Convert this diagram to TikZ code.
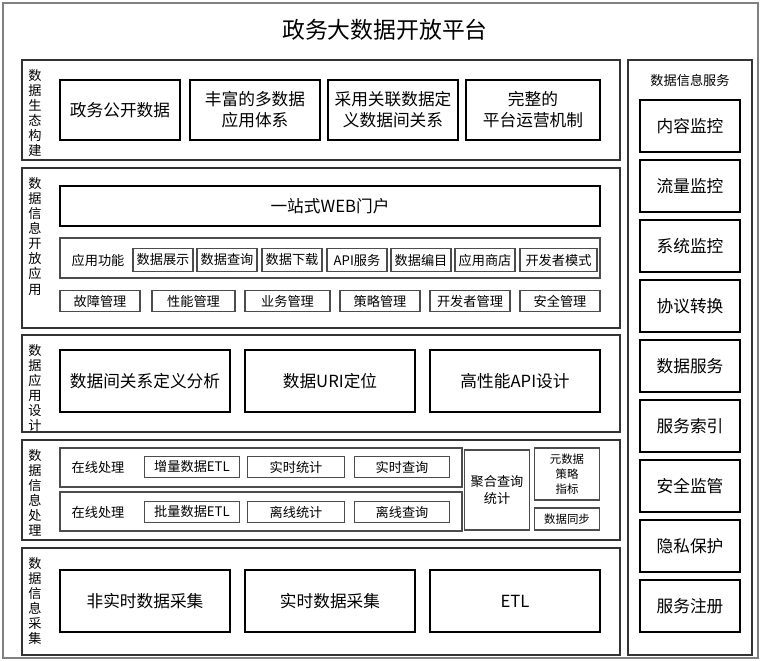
\documentclass[tikz,border=0pt]{standalone}
\usepackage{fontspec}
\setmainfont{Noto Sans CJK SC}
\begin{document}
\begin{tikzpicture}[x=0.02cm,y=-0.02cm,
  sec/.style={draw=black!80, line width=0.9pt},
  box/.style={draw=black, line width=1.1pt, align=center, inner sep=0pt},
  sbox/.style={draw=black!70, line width=0.8pt, align=center, inner sep=0pt},
  lab/.style={align=center, font=\fontsize{7}{8.5}\selectfont}]
\useasboundingbox (0,0) rectangle (761,661);
\draw[black!50, line width=0.8pt] (3,3) rectangle (758,658);
\node (title) at (385,30) {\fontsize{13}{13}\selectfont 政务大数据开放平台};

% left sections
\foreach \ya/\yb/\txt in {60/160/{数\\据\\生\\态\\构\\建}, 168/328/{数\\据\\信\\息\\开\\放\\应\\用},
  335/432/{数\\据\\应\\用\\设\\计}, 440/540/{数\\据\\信\\息\\处\\理}, 548/655/{数\\据\\信\\息\\采\\集}}{
  \draw[sec] (22,\ya) rectangle (620,\yb);
  \node[lab, anchor=north, font=\fontsize{7.5}{8.6}\selectfont] at (35,\ya+3) {\txt};
}

% data ecology
\foreach \xa/\xb/\txt in {60/180/政务公开数据, 190/320/{丰富的多数据\\应用体系}, 328/458/{采用关联数据定\\义数据间关系}, 466/600/{完整的\\平台运营机制}}
  \node[box, minimum width=(\xb-\xa)*0.02cm, minimum height=1.2cm, font=\fontsize{9.5}{12}\selectfont] at ({(\xa+\xb)/2},110) {\txt};

% open application
\node[box, minimum width=10.8cm, minimum height=0.8cm, font=\fontsize{9.5}{12}\selectfont] (web) at (330,206) {一站式WEB门户};
\draw[sbox] (60,238) rectangle (600,278);
\node[font=\fontsize{7.5}{9}\selectfont] (func) at (98,260) {应用功能};
\foreach \xa/\xb/\txt in {133/193/数据展示, 197/257/数据查询, 262/322/数据下载, 327/387/API服务, 391/451/数据编目, 455/515/应用商店, 520/597/开发者模式}
  \node[sbox, minimum width=(\xb-\xa)*0.02cm, minimum height=0.46cm, font=\fontsize{7.5}{9}\selectfont] at ({(\xa+\xb)/2},260) {\txt};
\foreach \xa/\xb/\txt in {60/140/故障管理, 152/235/性能管理, 245/330/业务管理, 340/420/策略管理, 430/510/开发者管理, 520/600/安全管理}
  \node[sbox, minimum width=(\xb-\xa)*0.02cm, minimum height=0.42cm, font=\fontsize{7.5}{9}\selectfont] at ({(\xa+\xb)/2},301) {\txt};

% application design
\foreach \xa/\xb/\txt in {60/230/数据间关系定义分析, 245/415/数据URI定位, 430/600/高性能API设计}
  \node[box, minimum width=(\xb-\xa)*0.02cm, minimum height=1.24cm, font=\fontsize{9.5}{12}\selectfont] at ({(\xa+\xb)/2},381) {\txt};

% processing
\foreach \ya/\yb/\yc/\first in {448/487/467/增量数据ETL, 492/531/512/批量数据ETL}{
  \draw[sbox] (60,\ya) rectangle (462,\yb);
  \node[font=\fontsize{7.5}{9}\selectfont] at (98,\yc) {在线处理};
  \node[sbox, minimum width=1.9cm, minimum height=0.42cm, font=\fontsize{7.5}{9}\selectfont] at (192,\yc) {\first};
}
\foreach \yc/\ta/\tb in {467/实时统计/实时查询, 512/离线统计/离线查询}{
  \node[sbox, minimum width=1.94cm, minimum height=0.42cm, font=\fontsize{7.5}{9}\selectfont] at (296,\yc) {\ta};
  \node[sbox, minimum width=1.9cm, minimum height=0.42cm, font=\fontsize{7.5}{9}\selectfont] at (402,\yc) {\tb};
}
\node[sbox, minimum width=1.3cm, minimum height=1.6cm, font=\fontsize{7.5}{9.5}\selectfont] (agg) at (497,490) {聚合查询\\统计};
\node[sbox, minimum width=1.3cm, minimum height=1.04cm, font=\fontsize{6.5}{8.5}\selectfont] (meta) at (567,474) {元数据\\策略\\指标};
\node[sbox, minimum width=1.3cm, minimum height=0.44cm, font=\fontsize{6.5}{8}\selectfont] (sync) at (567,519) {数据同步};

% collection
\foreach \xa/\xb/\txt in {60/230/非实时数据采集, 245/415/实时数据采集, 430/600/ETL}
  \node[box, minimum width=(\xb-\xa)*0.02cm, minimum height=1.24cm, font=\fontsize{9.5}{12}\selectfont] at ({(\xa+\xb)/2},601) {\txt};

% right column
\draw[sec] (628,60) rectangle (752,655);
\node[font=\fontsize{7.5}{9}\selectfont] (svc) at (690,80) {数据信息服务};
\foreach \i/\txt in {0/内容监控, 1/流量监控, 2/系统监控, 3/协议转换, 4/数据服务, 5/服务索引, 6/安全监管, 7/隐私保护, 8/服务注册}
  \node[box, minimum width=2cm, minimum height=1.04cm, font=\fontsize{9.5}{12}\selectfont] at (690,126+60*\i) {\txt};
\end{tikzpicture}
\end{document}
